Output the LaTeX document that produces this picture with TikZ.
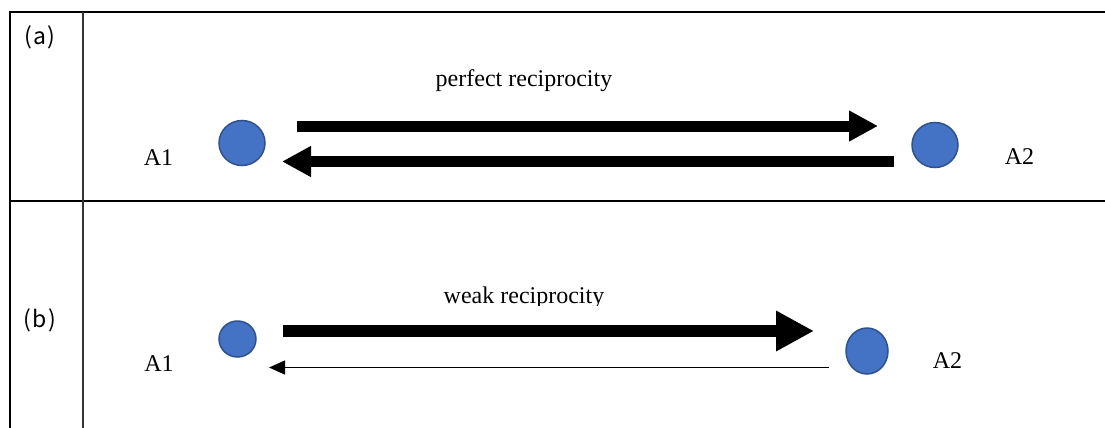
\documentclass[tikz,border=0pt]{standalone}
\usepackage{fontspec}
\setmainfont{Liberation Serif}
\newfontfamily\labfont{Noto Sans CJK JP}
\usetikzlibrary{arrows.meta,shapes.geometric}
\definecolor{dotfill}{HTML}{4472C4}
\definecolor{dotedge}{HTML}{2F528F}
\tikzset{
  dot/.style={ellipse,fill=dotfill,draw=dotedge,line width=1.5pt,inner sep=0pt},
  lbl/.style={font=\fontsize{24}{28}\selectfont,inner sep=0pt,anchor=base},
  tag/.style={font=\labfont\fontsize{23}{27}\selectfont,inner sep=0pt},
  grid/.style={line width=1.1pt},
  heavy/.style={line width=2pt},
  bigarrow/.style={line width=11pt,-{Triangle[length=29pt,width=29pt]}},
  bigarrowb/.style={line width=12pt,-{Triangle[length=38pt,width=38pt]}},
  thinarrow/.style={line width=1.3pt,-{Triangle[length=16pt,width=14pt]}}
}
\begin{document}
\begin{tikzpicture}[x=1pt,y=-1pt]
\useasboundingbox (0,0) rectangle (1105,428);
% table lines
\draw[grid] (10,12) -- (1105,12);
\draw[heavy] (10,200.5) -- (1105,200.5);
\draw[heavy] (10,11.5) -- (10,200.5);
\draw[grid] (10,200.5) -- (10,428);
\draw[grid,black!80] (83,12) -- (83,428);
% labels
\node[tag] (la) at (40,37) {(\kern1.2pt a\kern1.2pt)};
\node[tag] (lb) at (40,320) {(\kern1.2pt b\kern1.2pt)};
% row a
\node[dot,minimum width=46pt,minimum height=45pt] (a1) at (242,143) {};
\node[dot,minimum width=46pt,minimum height=45pt] (a2) at (935,145) {};
\node[lbl] (ta1) at (158.5,165) {A1};
\node[lbl] (ta2) at (1019.5,164) {A2};
\node[lbl] (tpa) at (524,86) {perfect reciprocity};
\coordinate (ua1) at (297,126);
\coordinate (ua2) at (878,126);
\coordinate (la2) at (894,161.5);
\coordinate (la1) at (282,161.5);
\draw[bigarrow] (ua1) -- (ua2);
\draw[bigarrow] (la2) -- (la1);
% row b
\node[dot,minimum width=37pt,minimum height=36pt] (b1) at (237.5,339) {};
\node[dot,minimum width=42pt,minimum height=46pt] (b2) at (867,351) {};
\node[lbl] (tb1) at (159,371) {A1};
\node[lbl] (tb2) at (947.5,368) {A2};
\begin{scope}
\clip (0,200) rectangle (1105,305.5);
\node[lbl] (tpb) at (524,303) {weak reciprocity};
\end{scope}
\coordinate (ub1) at (283,331);
\coordinate (ub2) at (814,331);
\coordinate (lb2) at (829,367.5);
\coordinate (lb1) at (269,367.5);
\draw[bigarrowb] (ub1) -- (ub2);
\draw[thinarrow] (lb2) -- (lb1);
\end{tikzpicture}
\end{document}
